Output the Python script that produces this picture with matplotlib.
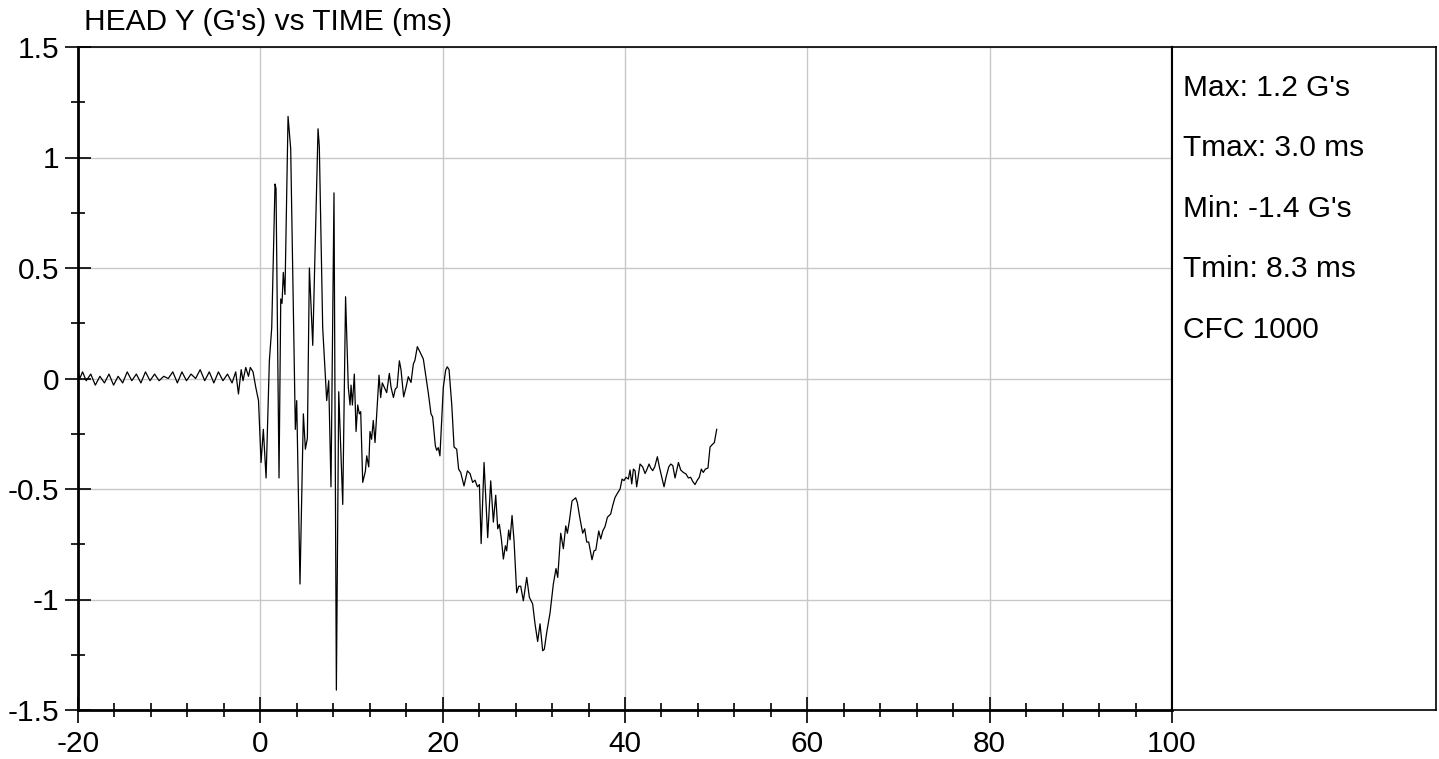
import matplotlib
matplotlib.use("Agg")
import matplotlib.pyplot as plt
from matplotlib.ticker import MultipleLocator

plt.rcParams['font.family'] = ['Liberation Sans', 'DejaVu Sans']
plt.rcParams['axes.unicode_minus'] = False

# time (ms) and head Y acceleration (G's)
time_ms = [-20.0, -19.8, -19.5, -19.1, -18.6, -18.1, -17.6, -17.1, -16.6, -16.1,
           -15.6, -15.1, -14.6, -14.1, -13.6, -13.1, -12.6, -12.1, -11.6, -11.1,
           -10.6, -10.1, -9.6, -9.1, -8.6, -8.1, -7.6, -7.1, -6.6, -6.1,
           -5.6, -5.1, -4.6, -4.1, -3.6, -3.1, -2.7, -2.4, -2.1, -1.9,
           -1.6, -1.3, -1.1, -0.8, -0.5, -0.2,
           0.08, 0.33, 0.63, 0.99, 1.25, 1.61, 1.72, 2.05, 2.24, 2.38,
           2.52, 2.70, 3.04, 3.33, 3.84, 3.99, 4.35, 4.72, 4.94, 5.16,
           5.38, 5.75, 6.33, 6.47, 6.84, 7.28, 7.50, 7.75, 8.08, 8.34,
           8.60, 9.04, 9.35, 9.65, 9.84, 9.95, 10.1, 10.31, 10.5, 10.68,
           10.86, 11.01, 11.23, 11.52, 11.67, 11.89, 12.03, 12.2, 12.39, 12.58,
           13.02, 13.2, 13.38, 13.6, 13.86, 14.15, 14.34, 14.6, 14.8, 15.0,
           15.25, 15.43, 15.72, 15.98, 16.23, 16.53, 16.78, 16.96, 17.22, 17.51,
           17.88, 18.42, 18.72, 18.9, 19.2, 19.34, 19.52, 19.7, 20.07, 20.33,
           20.5, 20.7, 21.0, 21.25, 21.54, 21.75, 21.98, 22.34, 22.71, 23.0,
           23.29, 23.55, 23.81, 24.03, 24.22, 24.54, 24.94, 25.27, 25.56, 25.82,
           26.04, 26.22, 26.44, 26.66, 26.88, 27.02, 27.24, 27.39, 27.61, 27.83,
           28.12, 28.34, 28.56, 28.85, 29.22, 29.51, 29.87, 30.13, 30.42, 30.68,
           30.97, 31.15, 31.41, 31.78, 32.14, 32.43, 32.62, 32.95, 33.24, 33.5,
           33.68, 33.9, 34.19, 34.41, 34.59, 34.77, 35.07, 35.36, 35.58, 35.8,
           36.02, 36.38, 36.6, 36.8, 37.12, 37.34, 37.56, 37.81, 38.07, 38.43,
           38.65, 38.91, 39.16, 39.46, 39.68, 39.89, 40.11, 40.37, 40.55, 40.74,
           40.92, 41.1, 41.28, 41.65, 41.94, 42.2, 42.38, 42.64, 42.82, 43.04,
           43.26, 43.55, 43.77, 44.03, 44.28, 44.5, 44.8, 45.02, 45.24, 45.49,
           45.67, 45.86, 46.11, 46.4, 46.69, 46.95, 47.2, 47.42, 47.68, 47.93,
           48.15, 48.37, 48.59, 48.81, 49.1, 49.33, 49.55, 49.8, 50.06]
head_y = [0.03, 0.0, 0.03, -0.01, 0.02, -0.03, 0.01, -0.02, 0.02, -0.03,
          0.01, -0.02, 0.03, -0.01, 0.02, -0.02, 0.03, -0.01, 0.02, -0.01,
          0.01, 0.0, 0.03, -0.02, 0.03, -0.01, 0.02, 0.0, 0.04, -0.01,
          0.03, -0.02, 0.03, -0.01, 0.02, -0.02, 0.03, -0.07, 0.04, -0.01,
          0.05, 0.01, 0.05, 0.03, -0.04, -0.1,
          -0.38, -0.23, -0.45, 0.08, 0.23, 0.88, 0.86, -0.45, 0.36, 0.34,
          0.48, 0.38, 1.186, 1.04, -0.23, -0.10, -0.93, -0.16, -0.32, -0.27,
          0.50, 0.15, 1.13, 1.05, 0.23, -0.10, -0.01, -0.49, 0.84, -1.41,
          -0.06, -0.57, 0.37, -0.04, -0.12, -0.03, -0.12, 0.02, -0.24, -0.12,
          -0.16, -0.15, -0.47, -0.42, -0.35, -0.40, -0.24, -0.275, -0.19, -0.29,
          0.015, -0.086, -0.02, -0.04, -0.064, 0.023, -0.04, -0.086, -0.048, -0.04,
          0.08, 0.04, -0.083, -0.04, 0.008, -0.018, 0.065, 0.083, 0.144, 0.12,
          0.088, -0.064, -0.16, -0.174, -0.305, -0.325, -0.313, -0.35, -0.04, 0.038,
          0.053, 0.04, -0.12, -0.31, -0.32, -0.41, -0.425, -0.486, -0.418, -0.43,
          -0.47, -0.46, -0.49, -0.48, -0.747, -0.38, -0.72, -0.463, -0.65, -0.528,
          -0.68, -0.66, -0.727, -0.817, -0.757, -0.78, -0.686, -0.73, -0.62, -0.735,
          -0.97, -0.94, -0.94, -1.006, -0.90, -0.99, -1.02, -1.11, -1.19, -1.11,
          -1.232, -1.225, -1.15, -1.06, -0.93, -0.86, -0.90, -0.70, -0.77, -0.667,
          -0.70, -0.644, -0.554, -0.546, -0.54, -0.561, -0.636, -0.70, -0.68, -0.74,
          -0.74, -0.82, -0.78, -0.776, -0.69, -0.726, -0.69, -0.67, -0.628, -0.613,
          -0.575, -0.538, -0.52, -0.50, -0.455, -0.462, -0.447, -0.455, -0.414, -0.477,
          -0.41, -0.417, -0.49, -0.387, -0.40, -0.43, -0.414, -0.387, -0.405, -0.417,
          -0.40, -0.354, -0.40, -0.447, -0.49, -0.447, -0.40, -0.387, -0.394, -0.45,
          -0.417, -0.38, -0.414, -0.425, -0.432, -0.45, -0.447, -0.465, -0.48, -0.46,
          -0.447, -0.41, -0.425, -0.41, -0.405, -0.31, -0.30, -0.29, -0.23]

stats_lines = ["Max: 1.2 G's", "Tmax: 3.0 ms", "Min: -1.4 G's", "Tmin: 8.3 ms", "CFC 1000"]

fig = plt.figure(figsize=(14.39, 7.59), dpi=100)
ax = fig.add_axes([78 / 1439, 1 - 710 / 759, (1172 - 78) / 1439, (710 - 47) / 759])

ax.plot(time_ms, head_y, color='black', linewidth=0.9)

ax.set_xlim(-20, 100)
ax.set_ylim(-1.5, 1.5)
ax.xaxis.set_major_locator(MultipleLocator(20))
ax.xaxis.set_minor_locator(MultipleLocator(4))
ax.yaxis.set_minor_locator(MultipleLocator(0.25))
ax.set_yticks([-1.5, -1, -0.5, 0, 0.5, 1, 1.5])
ax.set_yticklabels(['-1.5', '-1', '-0.5', '0', '0.5', '1', '1.5'])
ax.grid(True, which='major', color='#c8c8c8', linewidth=1)

ax.tick_params(which='major', direction='inout', length=19, width=1.2, labelsize=21.5)
ax.tick_params(axis='x', which='major', pad=5)
ax.tick_params(axis='y', which='major', pad=4)
ax.tick_params(which='minor', direction='inout', length=9.5, width=1.2)
ax.tick_params(top=False, right=False)

for side in ['left', 'bottom']:
    ax.spines[side].set_linewidth(2)
ax.spines['top'].set_linewidth(1.2)
ax.spines['right'].set_linewidth(1.5)

fig.text(84 / 1439, 1 - 22 / 759, "HEAD Y (G's) vs TIME (ms)", fontsize=21.5, va='center', ha='left')

# summary panel on the right
panel = fig.add_axes([1172 / 1439, 1 - 710 / 759, (1436 - 1172) / 1439, (710 - 47) / 759])
panel.set_xticks([])
panel.set_yticks([])
for side in panel.spines:
    panel.spines[side].set_linewidth(1.2)
panel.spines['left'].set_linewidth(1.5)
for i in range(len(stats_lines)):
    panel.text(11 / 264, 1 - (41 + 60.5 * i) / 663, stats_lines[i], fontsize=21.5,
               va='center', ha='left', transform=panel.transAxes)

fig.savefig('out.png', dpi=100)
